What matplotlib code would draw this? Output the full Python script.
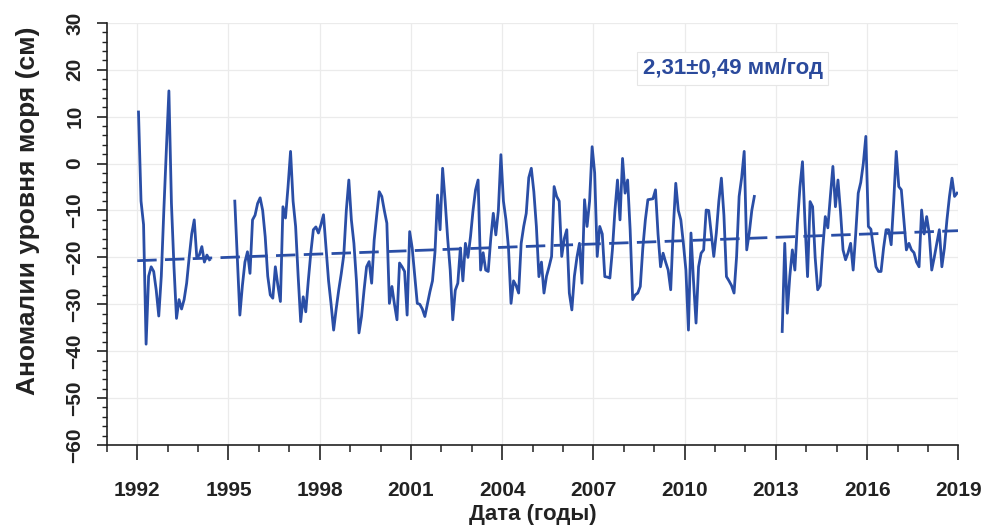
import numpy as np
import matplotlib.pyplot as plt
from matplotlib.ticker import MultipleLocator

# monthly sea level anomalies, cm (three segments separated by data gaps)
seg1_start = (1992, 1)
seg1 = [11, -8, -13, -38.5, -24, -22, -23, -27, -32.5, -24, -10, 3,
        15.5, -8.5, -22, -33, -29, -31, -29, -25.5, -20, -15, -12, -20,
        -19.5, -17.7, -21, -19.5, -20.5]

seg2_start = (1995, 3)
seg2 = [-8, -20, -32.3, -26, -21, -18.8, -23.4, -12, -11, -8.5,
        -7.3, -10, -15.6, -24, -28, -28.7, -22, -26, -29.4, -9.2, -11.6, -5,
        2.6, -8, -13.4, -24, -33.7, -28.4, -31.6, -25, -19, -14.1, -13.5, -14.8,
        -13, -10.9, -18, -25, -30, -35.5, -31, -27, -23.5, -19.5, -10, -3.5,
        -12, -17, -25, -36.1, -32.6, -27, -22, -20.9, -25.5, -16.3, -11, -6,
        -7, -10, -12.7, -29.8, -26.2, -30, -33.3, -21.2, -22, -23, -32.3, -14.5,
        -18, -24, -29.8, -30, -31, -32.6, -30, -27.3, -25, -18.8, -6.7, -14.1,
        -1, -8, -16, -22.7, -33.3, -27, -25.5, -18, -25, -17, -20, -15.6,
        -10, -5.6, -3.5, -22.7, -19, -22.7, -23, -16, -10.6, -15.2, -10, 1.9,
        -8, -12, -18, -29.8, -25, -26, -27.6, -17, -13.4, -10.6, -3, -1,
        -6, -13.4, -24.1, -21, -27.6, -24, -22, -19.8, -4.9, -7, -8, -19.8,
        -16, -14.1, -27.6, -31.2, -24, -20, -17, -25.5, -7.7, -13.4, -8, 3.6,
        -2, -19.8, -13.4, -15, -24.1, -24.2, -24.4, -18.4, -10, -3.5, -12, 1.1,
        -6.3, -3.5, -14.1, -29, -28, -27.6, -26.2, -18, -12, -7.7, -7.6, -7.5,
        -5.6, -15, -22, -19.1, -21, -22.7, -26.9, -14, -4.2, -10, -12, -17,
        -22.7, -35.5, -14.8, -25, -34, -22, -19.1, -18.4, -9.9, -10, -15, -19.8,
        -14.8, -8, -3.1, -11, -24.1, -25, -26, -27.6, -19.8, -7, -3, 2.6,
        -18.4, -14.8, -10, -7]

seg3_start = (2013, 3)
seg3 = [-35.8, -17, -31.9, -24, -18.4, -22.7, -12.7, -5, 0.4, -12.7,
        -24.1, -8.1, -9.2, -20, -26.9, -26, -18, -11.3, -13.7, -7, -0.6, -9.2,
        -3.5, -10.2, -18.4, -20.5, -19, -17, -22.7, -15, -6.3, -4, 0, 5.8,
        -13.4, -14, -18, -22, -23, -23, -18, -14.1, -14.1, -17.3, -8, 2.6,
        -4.9, -5.6, -12, -18.4, -17, -18.4, -19, -21, -22, -9.9, -15, -11.3,
        -14.8, -22.7, -20, -17, -14.1, -22, -18, -12, -7, -3.1, -7, -6.3]

# linear trend 2,31 mm/year
trend_years = [1992, 2019]
trend_values = [-20.7, -14.3]

blue = '#2a4ea6'
plt.rcParams['font.family'] = ['Liberation Sans', 'DejaVu Sans']
plt.rcParams['font.weight'] = 'bold'

fig = plt.figure(figsize=(9.89, 5.32), dpi=100)
ax = fig.add_axes([0.108, 0.1635, 0.861, 0.7935])


def month_dates(start, n):
    y, m = start
    return y + (m - 1 + np.arange(n) + 0.5) / 12.0


for start, vals in [(seg1_start, seg1), (seg2_start, seg2), (seg3_start, seg3)]:
    ax.plot(month_dates(start, len(vals)), vals, color=blue, lw=2.0, zorder=3)

tr, = ax.plot(trend_years, trend_values, color=blue, lw=2.0, zorder=2)
tr.set_dashes((7, 3))

ax.set_xlim(1991, 2019)
ax.set_ylim(-60, 30)
ax.xaxis.set_major_locator(MultipleLocator(3))
ax.xaxis.set_minor_locator(MultipleLocator(1))
ax.yaxis.set_major_locator(MultipleLocator(10))
ax.yaxis.set_minor_locator(MultipleLocator(2))
ax.set_xticks(np.arange(1992, 2020, 3))

ax.grid(True, which='major', color='#ebebeb', lw=0.9, zorder=0)
for s in ['top', 'right']:
    ax.spines[s].set_visible(False)
for s in ['left', 'bottom']:
    ax.spines[s].set_linewidth(1.2)
    ax.spines[s].set_color('#222222')

ax.tick_params(axis='x', which='major', length=11, width=1.2, pad=15,
               labelsize=15, colors='#222222')
ax.tick_params(axis='x', which='minor', length=5, width=1.1, colors='#222222')
ax.tick_params(axis='y', which='major', length=7, width=1.2, pad=9,
               labelsize=15, labelrotation=90, colors='#222222')
ax.tick_params(axis='y', which='minor', length=3.5, width=1.0, colors='#222222')
for lab in ax.get_yticklabels():
    lab.set_va('center')

ax.set_xlabel('Дата (годы)', fontsize=16, fontweight='bold', color='#222222', labelpad=3)
ax.set_ylabel('Аномалии уровня моря (см)', fontsize=19, fontweight='bold', color='#222222')
ax.yaxis.set_label_coords(-0.078, 0.556)

ax.text(0.735, 0.892, '2,31±0,49 мм/год', transform=ax.transAxes, ha='center', va='center',
        fontsize=16, fontweight='bold', color='#2b4a9c',
        bbox=dict(boxstyle='square,pad=0.25', fc='white', ec='#e6e6e6', lw=0.8))

fig.savefig('out.png', dpi=100)
